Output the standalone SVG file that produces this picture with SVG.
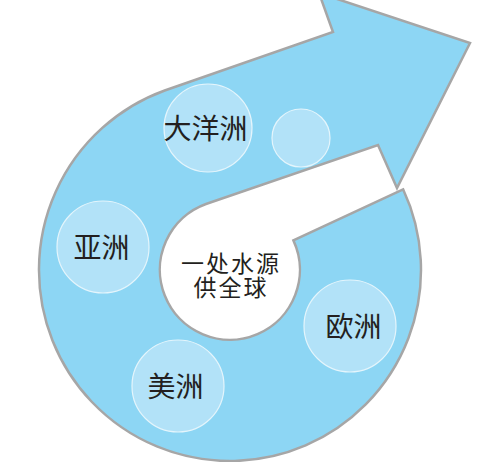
<svg xmlns="http://www.w3.org/2000/svg" width="485" height="462" viewBox="0 0 485 462">
<style>
.band{fill:#8DD6F4;stroke:#A6A6A6;stroke-width:2.5;stroke-linejoin:miter}
.bub{fill:#B2E2F8;stroke:#E4F5FC;stroke-width:1.2}
.lbl{font-family:"Noto Sans CJK SC","Noto Sans",sans-serif;font-size:28px;fill:#231F20;text-anchor:middle}
.hub{font-family:"Noto Sans CJK SC","Noto Sans",sans-serif;font-size:23px;letter-spacing:2px;fill:#231F20;text-anchor:middle}
</style>
<rect width="485" height="462" fill="#FFFFFF"/>
<g id="connectors">
<path id="arrow" class="band" d="M403.1,189.3 A191,191 0 1 1 164.7,90.5 L333,32 L319,-7 L470,43 L397,188 L378,145 L206,204 A70,70 0 1 0 293.4,240.4 Z"/>
</g>
<g id="node-oceania">
<circle class="bub" cx="208" cy="128" r="44"/>
<text class="lbl" x="205.5" y="138.7">大洋洲</text>
</g>
<g id="node-extra">
<circle class="bub" cx="301" cy="138" r="29"/>
</g>
<g id="node-asia">
<circle class="bub" cx="103" cy="247" r="46"/>
<text class="lbl" x="101.5" y="257.7">亚洲</text>
</g>
<g id="node-europe">
<circle class="bub" cx="350" cy="326" r="46"/>
<text class="lbl" x="353.5" y="336.7">欧洲</text>
</g>
<g id="node-america">
<circle class="bub" cx="178" cy="386" r="46"/>
<text class="lbl" x="175.5" y="397">美洲</text>
</g>
<g id="node-hub">
<text class="hub"><tspan x="231" y="271.9">一处水源</tspan><tspan x="231" y="296">供全球</tspan></text>
</g>
</svg>
